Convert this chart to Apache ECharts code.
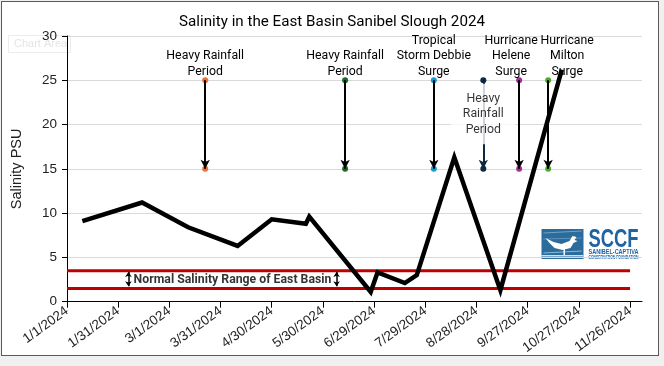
<!DOCTYPE html>
<html><head><meta charset="utf-8">
<script src="https://cdn.jsdelivr.net/npm/echarts@6/dist/echarts.min.js"></script>
<style>
html,body{margin:0;padding:0;background:#f0f0f0;}
#frame{position:absolute;left:1px;top:1px;width:656px;height:353px;border:1.5px solid #595959;background:#fff;}
#c{position:absolute;left:0;top:0;width:664px;height:366px;}
</style>
</head><body><div id="frame"></div><div id="c"></div>
<script>
// ---- data ----
const startDate = '2024-01-01';
const xTickDays = [0, 30, 60, 90, 120, 150, 180, 210, 240, 270, 300, 330];
const yTicks = [0, 5, 10, 15, 20, 25, 30];
const salinityDates = ['2024-01-10','2024-02-14','2024-03-12','2024-04-10','2024-04-30','2024-05-20','2024-05-22','2024-06-27','2024-07-01','2024-07-17','2024-07-24','2024-08-15','2024-09-11','2024-10-17'];
const salinityValues = [9.1, 11.2, 8.4, 6.3, 9.3, 8.8, 9.6, 1.1, 3.3, 2.1, 3.0, 16.3, 1.3, 26.2];
const eventNames = ['Heavy Rainfall\nPeriod', 'Heavy Rainfall\nPeriod', 'Tropical\nStorm Debbie\nSurge', 'Heavy\nRainfall\nPeriod', 'Hurricane\nHelene\nSurge', 'Hurricane\nMilton\nSurge'];
const eventDates = ['2024-03-22', '2024-06-12', '2024-08-03', '2024-09-01', '2024-09-22', '2024-10-09'];
const eventFrom = 25;
const eventTo = 15;
const normalLow = 1.5;
const normalHigh = 3.5;
const normalRangeEnd = '2024-11-26';
const normalLabel = 'Normal Salinity Range of East Basin';
const titleText = 'Salinity in the East Basin Sanibel Slough 2024';
const yName = 'Salinity PSU';

// ---- styles ----
const eventColors = ['#E97132', '#196B24', '#0F9ED5', '#0E2841', '#A02B93', '#4EA72E'];
const eventLabelOffsets = [[0,4],[0,4],[0,4],null,[-8,4],[19,4]];

const mctx = document.createElement('canvas').getContext('2d');
function hasFont(f){
  mctx.font = '40px monospace'; const a = mctx.measureText('Heavy Rainfall mmmWi').width;
  mctx.font = "40px '" + f + "', monospace"; const b = mctx.measureText('Heavy Rainfall mmmWi').width;
  return a !== b;
}
function pick(list){ for (const f of list) if (hasFont(f)) return "'" + f + "'"; return 'sans-serif'; }
function fit(text, fam, weight, target){ mctx.font = weight + ' 100px ' + fam; return 100 * target / mctx.measureText(text).width; }
const annFont = pick(['Liberation Sans Narrow', 'Roboto', 'Noto Sans']);
const titleFont = pick(['Roboto', 'Noto Sans']);
const annSize = Math.min(12.3, fit('Heavy Rainfall', annFont, 'normal', 78));
const titleSize = fit(titleText, titleFont, 'normal', 306);
const rangeSize = fit(normalLabel, annFont, 'bold', 198);
const arial = "'Liberation Sans', Arial, sans-serif";

function dayOf(s){ const p = s.split('-').map(Number); const b = startDate.split('-').map(Number);
  return Math.round((Date.UTC(p[0],p[1]-1,p[2]) - Date.UTC(b[0],b[1]-1,b[2]))/86400000); }
function fmtDay(d){ const b = startDate.split('-').map(Number); const dt = new Date(Date.UTC(b[0],b[1]-1,b[2]+d));
  return (dt.getUTCMonth()+1)+'/'+dt.getUTCDate()+'/'+dt.getUTCFullYear(); }

const series = [];
[normalHigh, normalLow].forEach(v => series.push({
  type:'line', data:[[0,v],[dayOf(normalRangeEnd),v]], symbol:'none', silent:true, z:2,
  lineStyle:{color:'#C00000', width:3}
}));
series.push({
  type:'line', name:'Salinity', data: salinityDates.map((d,i)=>[dayOf(d), salinityValues[i]]),
  symbol:'none', z:6, lineStyle:{color:'#000', width:4.5, join:'miter'}
});
eventNames.forEach((nm,i) => {
  const d = dayOf(eventDates[i]);
  const isMid = eventLabelOffsets[i] === null;
  series.push({
    type:'scatter', z:4, silent:true,
    data:[{value:[d,eventFrom], label:{show:!isMid}}, {value:[d,eventTo], label:{show:false}}],
    symbolSize:6, itemStyle:{color:eventColors[i], opacity:1},
    label:{show:true, position:'top', distance:2, offset:isMid?[0,0]:eventLabelOffsets[i], formatter:nm,
      fontFamily:annFont, fontSize:annSize, lineHeight:15.5, color:'#000', align:'center'},
    markLine:{silent:true, symbol:['none','arrow'], symbolSize:[7,9], label:{show:false},
      lineStyle:{color: isMid ? eventColors[i] : '#000', width:2, type:'solid'},
      data:[[{coord:[d,eventFrom]},{coord:[d,eventTo]}]], animation:false}
  });
  if (isMid) {
    series.push({
      type:'scatter', z:8, silent:true, symbolSize:0,
      data:[[d, (eventFrom+eventTo)/2 + 1.2]],
      label:{show:true, position:'inside', formatter:nm, fontFamily:annFont, fontSize:annSize, lineHeight:15.5,
        color:'#000', backgroundColor:'#fff', padding:[7,12,7,12]}
    });
  }
});
const rangeArrowA = '2024-02-06', rangeArrowB = '2024-06-07', rangeTextAt = '2024-04-07';
series.push({
  type:'scatter', z:7, silent:true, symbolSize:0,
  data:[[dayOf(rangeTextAt), (normalLow+normalHigh)/2]],
  label:{show:true, position:'inside', formatter:normalLabel, fontFamily:annFont, fontWeight:'bold', fontSize:rangeSize, color:'#000'},
  markLine:{silent:true, symbol:['arrow','arrow'], symbolSize:[5,5], label:{show:false},
    lineStyle:{color:'#000', width:1.5, type:'solid'}, animation:false,
    data:[[{coord:[dayOf(rangeArrowA),normalHigh-0.15]},{coord:[dayOf(rangeArrowA),normalLow+0.25]}],
          [{coord:[dayOf(rangeArrowB),normalHigh-0.15]},{coord:[dayOf(rangeArrowB),normalLow+0.25]}]]}
});

function logoText(txt, font, target){ mctx.font = font; const w = mctx.measureText(txt).width; return target / w; }
const fSCCF = "bold 25px 'Liberation Sans', Arial";
const fSan = "bold 7px 'Liberation Sans', Arial";
const fCon = "bold 5px 'Liberation Sans', Arial";

const chart = echarts.init(document.getElementById('c'), null, {renderer:'canvas'});
chart.setOption({
  animation:false,
  backgroundColor:'transparent',
  title:{text:titleText, left:'center', top:10, textStyle:{fontFamily:titleFont, fontSize:titleSize, fontWeight:'normal', color:'#000'}},
  grid:{left:67, right:22, top:36, bottom:64.3, containLabel:false},
  xAxis:{type:'value', min:0, max:337,
    axisLine:{show:true, lineStyle:{color:'#000', width:1}},
    axisTick:{show:true, length:6, lineStyle:{color:'#000'}, customValues:xTickDays},
    axisLabel:{show:true, rotate:36, margin:8, customValues:xTickDays, formatter:v=>fmtDay(v),
      fontFamily:arial, fontSize:13.5, color:'#222'},
    splitLine:{show:false}},
  yAxis:{type:'value', min:0, max:30, interval:5, name:yName, nameLocation:'middle', nameGap:43, nameRotate:90,
    nameTextStyle:{fontFamily:arial, fontSize:14.5, color:'#222'},
    axisLine:{show:true, lineStyle:{color:'#000', width:1}},
    axisTick:{show:true, length:5, lineStyle:{color:'#000'}},
    axisLabel:{margin:10, fontFamily:arial, fontSize:13.5, color:'#222'},
    splitLine:{show:true, lineStyle:{color:'#d9d9d9', width:1}}},
  graphic:[
    {type:'rect', left:8, top:35, shape:{width:62, height:17}, style:{fill:'rgba(255,255,255,0)', stroke:'#ececec', lineWidth:1}, z:-1},
    {type:'text', left:14, top:38, style:{text:'Chart Area', fill:'#e4e4e4', font:"11px 'Liberation Sans', Arial"}},
    {type:'group', left:541, top:228, children:[
      {type:'rect', shape:{x:0,y:0,width:42,height:30}, style:{fill:'#2b6c9c'}},
      {type:'polyline', shape:{points:[[2,4],[40,2]]}, style:{stroke:'#6fa3c8', lineWidth:1}},
      {type:'polyline', shape:{points:[[2,10],[40,9]]}, style:{stroke:'#5b93bd', lineWidth:1}},
      {type:'polyline', shape:{points:[[2,24],[40,22]]}, style:{stroke:'#8ab8d8', lineWidth:1}},
      {type:'polygon', shape:{points:[[4,9],[12,13],[20,15],[28,12],[31,7],[35,8],[33,11],[36,12],[32,14],[29,19],[21,21],[13,19],[8,14]]}, style:{fill:'#fff'}},
      {type:'rect', shape:{x:22,y:20,width:1.5,height:6}, style:{fill:'#fff'}},
      {type:'rect', shape:{x:0,y:26,width:42,height:1.5}, style:{fill:'#cfe0ee'}},
      {type:'text', x:47, y:-1, scaleX:logoText('SCCF', fSCCF, 50), style:{text:'SCCF', fill:'#1e63a3', font:fSCCF}},
      {type:'text', x:47, y:20, scaleX:logoText('SANIBEL-CAPTIVA', fSan, 50), style:{text:'SANIBEL-CAPTIVA', fill:'#1e63a3', font:fSan}},
      {type:'text', x:47, y:26, scaleX:logoText('CONSERVATION FOUNDATION', fCon, 50), style:{text:'CONSERVATION FOUNDATION', fill:'#1e63a3', font:fCon}}
    ]}
  ],
  series: series
});
</script>
</body></html>
